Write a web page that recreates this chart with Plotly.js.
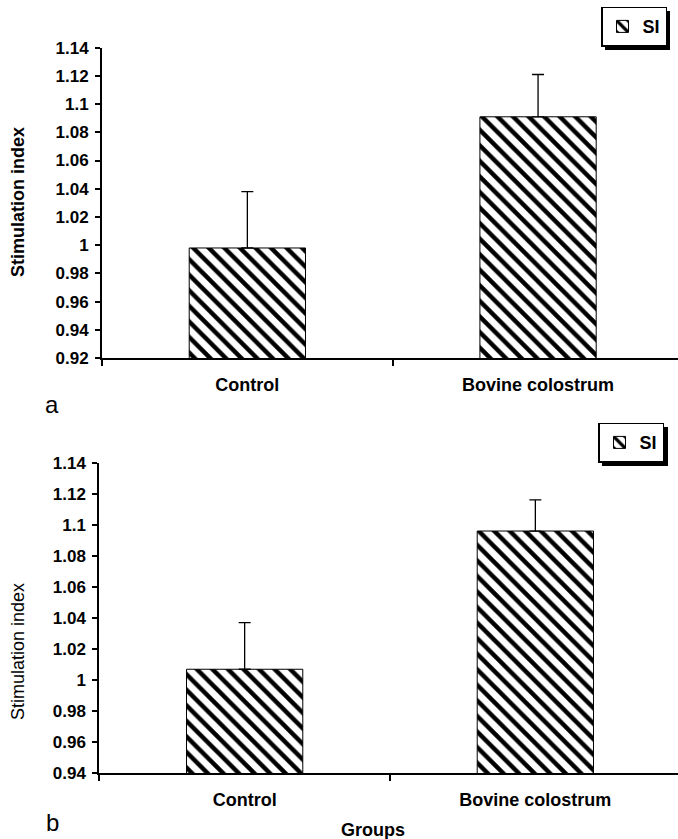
<!DOCTYPE html>
<html>
<head>
<meta charset="utf-8">
<script src="https://cdn.plot.ly/plotly-3.0.1.min.js"></script>
<style>
html,body{margin:0;padding:0;background:#fff;overflow:hidden;}
#chart{width:678px;height:839px;}
</style>
</head>
<body>
<div id="chart"></div>
<script>
// ---- data ----
var categories = ['Control', 'Bovine colostrum'];
var siA = [0.998, 1.091];
var errA = [0.040, 0.030];
var siB = [1.007, 1.096];
var errB = [0.030, 0.020];
var tickValsA = [0.92, 0.94, 0.96, 0.98, 1.00, 1.02, 1.04, 1.06, 1.08, 1.10, 1.12, 1.14];
var tickTextA = ['0.92', '0.94', '0.96', '0.98', '1', '1.02', '1.04', '1.06', '1.08', '1.1', '1.12', '1.14'];
var tickValsB = [0.94, 0.96, 0.98, 1.00, 1.02, 1.04, 1.06, 1.08, 1.10, 1.12, 1.14];
var tickTextB = ['0.94', '0.96', '0.98', '1', '1.02', '1.04', '1.06', '1.08', '1.1', '1.12', '1.14'];
var seriesName = 'SI';
var yTitle = 'Stimulation index';
var xTitle = 'Groups';

var FONT = 'Arial, "Liberation Sans", Helvetica, sans-serif';
var W = 678, H = 839;

function barTrace(y, err, xa, ya, leg) {
  return {
    type: 'bar',
    name: seriesName,
    x: categories,
    y: y,
    xaxis: xa,
    yaxis: ya,
    legend: leg,
    width: 0.4,
    marker: {
      color: 'white',
      line: {color: 'black', width: 1},
      pattern: {shape: '\\', fgcolor: 'black', bgcolor: 'white', size: 11, solidity: 0.4, fillmode: 'replace'}
    },
    error_y: {type: 'data', symmetric: false, array: err, arrayminus: err.map(function(){return 0;}),
              color: 'black', thickness: 1.3, width: 6}
  };
}

var data = [
  barTrace(siA, errA, 'x', 'y', 'legend'),
  barTrace(siB, errB, 'x2', 'y2', 'legend2')
];

function yax(domain, range, vals, text, anchor) {
  return {
    domain: domain, range: range, anchor: anchor,
    tickmode: 'array', tickvals: vals, ticktext: text,
    showgrid: false, zeroline: false,
    showline: true, linecolor: 'black', linewidth: 2,
    ticks: 'outside', ticklen: 5, tickwidth: 2, tickcolor: 'black',
    ticklabelstandoff: 3,
    tickfont: {family: FONT, size: 17, color: 'black', weight: 'bold'},
    automargin: false, fixedrange: true
  };
}
function xax(domain, range, anchor) {
  return {
    domain: domain, range: range, anchor: anchor, type: 'category',
    showgrid: false, zeroline: false,
    showline: true, linecolor: 'black', linewidth: 2,
    ticks: 'outside', tickson: 'boundaries', ticklen: 6, tickwidth: 2, tickcolor: 'black',
    ticklabelstandoff: 9,
    tickfont: {family: FONT, size: 18, color: 'black', weight: 'bold'},
    automargin: false, fixedrange: true
  };
}

var legendBase = {
  xanchor: 'left', yanchor: 'top',
  bgcolor: 'white', bordercolor: 'black', borderwidth: 1.5,
  font: {family: FONT, size: 18, color: 'black', weight: 'bold'},
  itemwidth: 30, tracegroupgap: 0
};

// drop shadow behind each legend box (pixel box -> paper coords)
function shadow(x0, y0, x1, y1) {
  return {type: 'rect', xref: 'paper', yref: 'paper', layer: 'above',
          x0: x0 / W, x1: x1 / W, y0: 1 - y1 / H, y1: 1 - y0 / H,
          fillcolor: 'black', line: {width: 0}};
}

var layout = {
  width: W, height: H,
  margin: {l: 0, r: 0, t: 0, b: 0, autoexpand: false},
  paper_bgcolor: 'white', plot_bgcolor: 'white',
  showlegend: true,
  xaxis: xax([102/W, 1], [-0.5, 1.4814], 'y'),
  yaxis: yax([1 - 358/H, 1 - 47.7/H], [0.92, 1.14], tickValsA, tickTextA, 'x'),
  xaxis2: xax([99.3/W, 1], [-0.5, 1.4907], 'y2'),
  yaxis2: yax([1 - 773.3/H, 1 - 462.7/H], [0.94, 1.14], tickValsB, tickTextB, 'x2'),
  legend: Object.assign({}, legendBase, {x: 601/W, y: 1 - 6.7/H}),
  legend2: Object.assign({}, legendBase, {x: 598/W, y: 1 - 422.7/H}),
  shapes: [
    shadow(605, 11, 670, 50),
    shadow(602, 427, 668, 466)
  ],
  annotations: [
    {text: yTitle, xref: 'paper', yref: 'paper', x: 18/W, y: 1 - 202/H, xanchor: 'center', yanchor: 'middle',
     textangle: -90, showarrow: false, font: {family: FONT, size: 18, color: 'black', weight: 'bold'}},
    {text: yTitle, xref: 'paper', yref: 'paper', x: 18/W, y: 1 - 652/H, xanchor: 'center', yanchor: 'middle',
     textangle: -90, showarrow: false, font: {family: FONT, size: 18, color: 'black'}},
    {text: 'a', xref: 'paper', yref: 'paper', x: 52/W, y: 1 - 404/H, xanchor: 'center', yanchor: 'middle',
     showarrow: false, font: {family: FONT, size: 24, color: 'black'}},
    {text: 'b', xref: 'paper', yref: 'paper', x: 52/W, y: 1 - 822/H, xanchor: 'center', yanchor: 'middle',
     showarrow: false, font: {family: FONT, size: 24, color: 'black'}},
    {text: xTitle, xref: 'paper', yref: 'paper', x: 373/W, y: 1 - 830/H, xanchor: 'center', yanchor: 'middle',
     showarrow: false, font: {family: FONT, size: 18, color: 'black', weight: 'bold'}}
  ]
};

Plotly.newPlot('chart', data, layout, {staticPlot: true, displayModeBar: false});
</script>
</body>
</html>
